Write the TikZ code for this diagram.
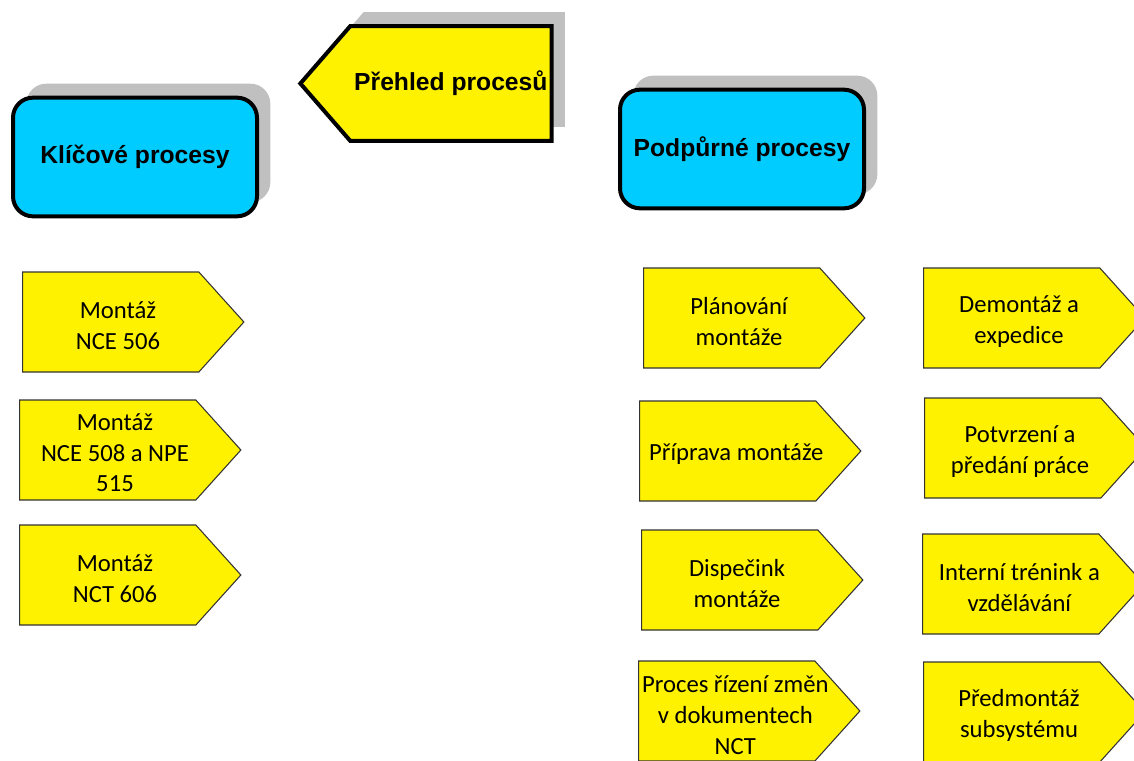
\documentclass[tikz,border=0pt]{standalone}
\usepackage{fontspec}
\setmainfont{Carlito}
\newfontfamily\headfont{Liberation Sans}
\usetikzlibrary{shapes.symbols, shadows}
\definecolor{boxcyan}{RGB}{0,204,255}
\definecolor{shadowgray}{RGB}{192,192,192}

\begin{document}
\begin{tikzpicture}[x=0.75pt, y=-0.75pt,
  shadowed/.style={drop shadow={shadow xshift=10pt, shadow yshift=10.5pt, fill=shadowgray, opacity=1}},
  headfont/.style={font=\headfont\bfseries\fontsize{18.5}{22}\selectfont},
  headbox/.style={draw, line width=3pt, rounded corners=15pt, fill=boxcyan, minimum width=183pt, minimum height=89pt, headfont, shadowed},
  procarrow/.style={signal, signal to=east, signal pointer angle=96, draw=black!80, line width=0.8pt, fill=yellow, minimum width=166pt, minimum height=75pt, anchor=west, inner sep=0pt},
  proctext/.style={align=center, font=\fontsize{18.5}{23}\selectfont}]
\useasboundingbox (0,0) rectangle (1134,760);
\clip (0,0) rectangle (1134,760);

\node[signal, signal to=west, signal pointer angle=98, draw, line width=3pt, fill=yellow, inner xsep=3pt, minimum height=86pt, anchor=east, headfont, shadowed] (prehled) at (553.5, 83.5) {Přehled procesů};
\node[headbox] (klicove) at (135, 157) {Klíčové procesy};
\node[headbox] (podpurne) at (742, 149) {Podpůrné procesy};

% key processes
\node[procarrow] (m1) at (22, 322) {};
\node[proctext] (m1t) at ([xshift=72pt, yshift=-2.5pt]m1.west) {Montáž\\NCE 506};
\node[procarrow] (m2) at (19, 450) {};
\node[proctext] (m2t) at ([xshift=72pt, yshift=-2pt]m2.west) {Montáž\\NCE 508 a NPE\\515};
\node[procarrow] (m3) at (19, 575) {};
\node[proctext] (m3t) at ([xshift=72pt, yshift=-2.5pt]m3.west) {Montáž\\NCT 606};

% supporting processes
\node[procarrow] (p1) at (643, 318) {};
\node[proctext] (p1t) at ([xshift=72pt, yshift=-2.5pt]p1.west) {Plánování\\montáže};
\node[procarrow] (p2) at (639, 451) {};
\node[proctext] (p2t) at ([xshift=73pt, yshift=-2pt]p2.west) {Příprava montáže};
\node[procarrow] (p3) at (641, 580) {};
\node[proctext] (p3t) at ([xshift=72pt, yshift=-2.5pt]p3.west) {Dispečink\\montáže};
\node[procarrow] (p4) at (638, 711) {};
\node[proctext] (p4t) at ([xshift=73pt, yshift=-3pt]p4.west) {Proces řízení změn\\v dokumentech\\NCT};

\node[procarrow] (s1) at (923, 318) {};
\node[proctext] (s1t) at ([xshift=72pt, yshift=-2.5pt]s1.west) {Demontáž a\\expedice};
\node[procarrow] (s2) at (924, 448) {};
\node[proctext] (s2t) at ([xshift=72pt, yshift=-2.5pt]s2.west) {Potvrzení a\\předání práce};
\node[procarrow] (s3) at (922, 584) {};
\node[proctext] (s3t) at ([xshift=73pt, yshift=-2.5pt]s3.west) {Interní trénink a\\vzdělávání};
\node[procarrow] (s4) at (923, 712) {};
\node[proctext] (s4t) at ([xshift=72pt, yshift=-2.5pt]s4.west) {Předmontáž\\subsystému};

\end{tikzpicture}
\end{document}
